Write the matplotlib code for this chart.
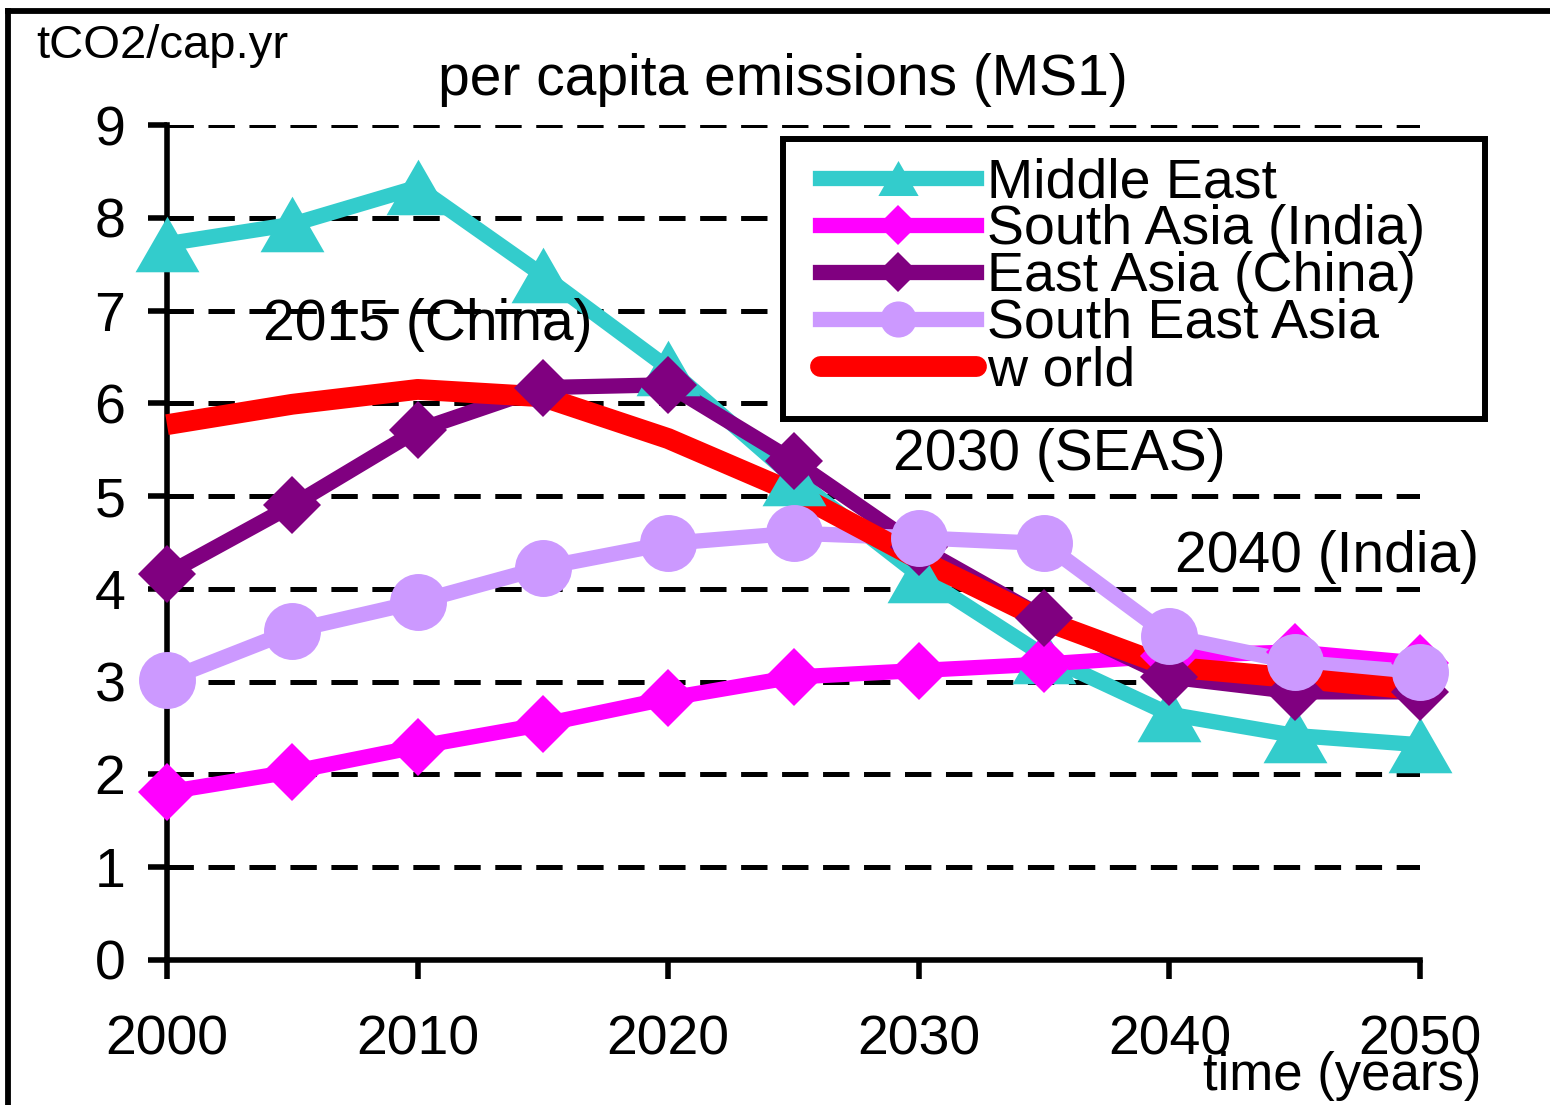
import matplotlib
matplotlib.use("Agg")
import matplotlib.pyplot as plt
from matplotlib.lines import Line2D
from matplotlib.patches import Rectangle

plt.rcParams['font.family'] = ['Liberation Sans', 'DejaVu Sans']
plt.rcParams['lines.scale_dashes'] = False

# ---------------- data ----------------
years = [2000, 2005, 2010, 2015, 2020, 2025, 2030, 2035, 2040, 2045, 2050]
middle_east = [7.72, 7.93, 8.33, 7.38, 6.38, 5.20, 4.15, 3.28, 2.65, 2.42, 2.32]
south_asia = [1.81, 2.03, 2.30, 2.54, 2.82, 3.05, 3.12, 3.19, 3.28, 3.32, 3.20]
east_asia = [4.16, 4.90, 5.71, 6.17, 6.20, 5.38, 4.45, 3.69, 3.05, 2.89, 2.89]
south_east_asia = [3.02, 3.55, 3.86, 4.23, 4.49, 4.60, 4.55, 4.49, 3.49, 3.21, 3.10]
world = [5.77, 5.99, 6.15, 6.07, 5.62, 5.04, 4.32, 3.66, 3.16, 3.04, 2.91]

series_names = ["Middle East", "South Asia (India)", "East Asia (China)",
                "South East Asia", "w orld"]
x_ticks = [2000, 2010, 2020, 2030, 2040, 2050]
y_ticks = [0, 1, 2, 3, 4, 5, 6, 7, 8, 9]

annotations = [("2015 (China)", 2010.4, 6.84),
               ("2030 (SEAS)", 2035.6, 5.44),
               ("2040 (India)", 2046.3, 4.34)]

# ---------------- styles ----------------
CYAN = "#33CCCC"
MAGENTA = "#FF00FF"
PURPLE = "#800080"
LAVENDER = "#CC99FF"
RED = "#FF0000"
tri = [(-1.15, -1), (1.15, -1), (0, 1), (-1.15, -1)]

W, H = 1550, 1105
fig = plt.figure(figsize=(W / 100, H / 100), dpi=100)
ax = fig.add_axes([167 / W, 1 - 960 / H, (1420 - 167) / W, (960 - 125) / H])

ax.set_xlim(2000, 2050)
ax.set_ylim(0, 9)
ax.set_xticks(x_ticks)
ax.set_yticks(y_ticks)
ax.set_xticklabels([str(t) for t in x_ticks])
ax.set_yticklabels([str(t) for t in y_ticks])

for s in ("top", "right"):
    ax.spines[s].set_visible(False)
for s in ("left", "bottom"):
    ax.spines[s].set_linewidth(4.0)
    ax.spines[s].set_color("black")

ax.tick_params(axis="both", direction="out", length=14, width=4.0,
               color="black", labelsize=40)
ax.tick_params(axis="y", pad=16)
ax.tick_params(axis="x", pad=25)

ax.set_axisbelow(True)
ax.yaxis.grid(True, color="black", linewidth=3.6, dashes=(19, 10.5))
ax.xaxis.grid(False)

# lines first (series order), then markers (series order)
line_specs = [
    (middle_east, CYAN, 11),
    (south_asia, MAGENTA, 11),
    (east_asia, PURPLE, 11),
    (south_east_asia, LAVENDER, 11),
    (world, RED, 15),
]
for vals, col, lw in line_specs:
    ax.plot(years, vals, color=col, lw=lw, solid_joinstyle="round",
            solid_capstyle="butt", zorder=3, clip_on=False)

marker_specs = [
    (middle_east, CYAN, tri, 46),
    (south_asia, MAGENTA, "D", 30),
    (east_asia, PURPLE, "D", 30),
    (south_east_asia, LAVENDER, "o", 41),
]
for vals, col, mk, ms in marker_specs:
    ax.plot(years, vals, ls="none", marker=mk, ms=ms, color=col,
            markeredgewidth=0, zorder=4, clip_on=False)

# legend
handles = [
    Line2D([], [], color=CYAN, lw=11, marker=tri, ms=29, markeredgewidth=0),
    Line2D([], [], color=MAGENTA, lw=11, marker="D", ms=20, markeredgewidth=0),
    Line2D([], [], color=PURPLE, lw=11, marker="D", ms=20, markeredgewidth=0),
    Line2D([], [], color=LAVENDER, lw=11, marker="o", ms=26, markeredgewidth=0),
    Line2D([], [], color=RED, lw=15, solid_capstyle="round"),
]
leg = ax.legend(handles, series_names, loc="upper left",
                bbox_to_anchor=((820 - 167) / 1253, (960 - 157) / 835),
                frameon=False, fontsize=40, handlelength=2.8,
                handletextpad=0.2, labelspacing=-0.09, borderpad=0,
                borderaxespad=0)
leg.set_zorder(10)

ax.add_patch(Rectangle(((783 - 167) / 1253, (960 - 419) / 835),
                       (1485 - 783) / 1253, (419 - 139) / 835,
                       transform=ax.transAxes, facecolor="white", lw=4.3,
                       edgecolor="black", clip_on=False, zorder=9))

for txt, xv, yv in annotations:
    ax.text(xv, yv, txt, fontsize=41, ha="center", va="center", zorder=6)

fig.text(783 / W, 1 - 80 / H, "per capita emissions (MS1)", fontsize=41,
         ha="center", va="center")
fig.text(162 / W, 1 - 46 / H, "tCO2/cap.yr", fontsize=34,
         ha="center", va="center")
fig.text(1342 / W, 1 - 1076 / H, "time (years)", fontsize=38,
         ha="center", va="center")

# outer frame (cropped on right and bottom)
fig.add_artist(Line2D([8 / W, 8 / W], [0, 1 - 11 / H], color="black",
                      lw=4.2, transform=fig.transFigure))
fig.add_artist(Line2D([8 / W, 1], [1 - 11 / H, 1 - 11 / H], color="black",
                      lw=4.2, transform=fig.transFigure))

fig.savefig("out.png", dpi=100, facecolor="white")
